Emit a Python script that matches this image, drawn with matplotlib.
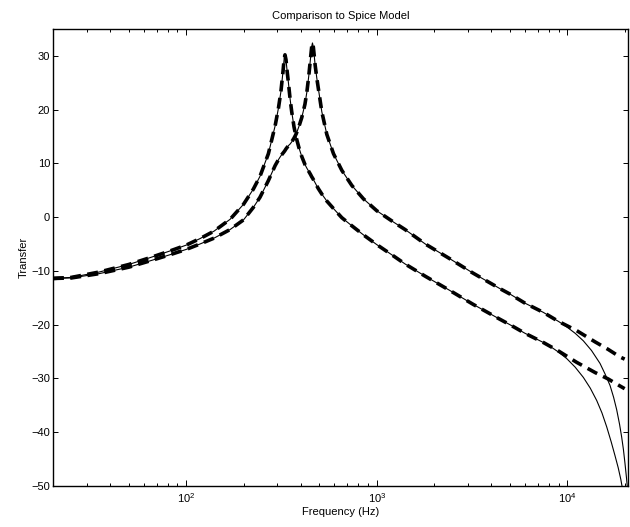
import matplotlib
matplotlib.use("Agg")
import matplotlib.pyplot as plt

# frequencies (Hz) shared by both Spice curves
freq = [20, 25, 35, 50, 65, 82, 100, 118, 140, 170, 200, 225, 244, 270, 293,
        305, 314, 322, 327, 330, 334, 339, 344, 351, 358, 368, 378, 390, 404,
        420, 430, 440, 450, 456, 460, 465, 470, 475, 485, 494, 515, 547, 593,
        656, 740, 852, 1000, 1223, 1408, 1800, 2410, 3200, 4436, 5000, 6000,
        7480, 9000, 11200, 14000, 16400, 18900, 20000]

# Spice model, lower resonance (dB)
spice_a = [-11.4, -11.2, -10.2, -8.8, -7.5, -6.3, -5.2, -4.0, -2.6, -0.4, 2.4,
           5.2, 7.6, 11.8, 17.0, 20.3, 23.3, 27.0, 29.6, 30.2, 29.3, 27.0, 25.0,
           22.0, 19.6, 16.8, 14.8, 13.0, 11.3, 9.8, 9.1, 8.5, 7.9, 7.5, 7.3,
           7.0, 6.7, 6.4, 5.8, 5.3, 4.3, 3.0, 1.6, -0.1, -1.6, -3.3, -5.1,
           -7.2, -8.7, -11.0, -13.6, -16.2, -19.0, -20.0, -21.6, -23.3, -24.9,
           -27.0, -28.9, -30.1, -31.4, -31.9]

# Spice model, upper resonance (dB)
spice_b = [-11.4, -11.3, -10.5, -9.3, -8.1, -7.0, -6.0, -5.0, -3.9, -2.3, -0.5,
           1.8, 3.7, 6.8, 9.6, 10.7, 11.4, 11.9, 12.2, 12.4, 12.7, 13.0, 13.3,
           13.6, 14.0, 14.7, 15.5, 16.8, 18.5, 21.0, 23.3, 26.3, 29.8, 31.8,
           32.4, 31.6, 30.0, 28.3, 25.8, 23.9, 19.6, 15.4, 11.8, 8.7, 5.9, 3.4,
           1.2, -0.9, -2.3, -5.0, -7.7, -10.4, -13.3, -14.3, -16.0, -17.7,
           -19.4, -21.1, -23.2, -24.6, -26.0, -26.4]

# where the digital model leaves the Spice curve
split_a = 7480
split_b = 9000
tail_freq_a = [8110, 9000, 9930, 11000, 12140, 13200, 14270, 15200, 16100,
               17000, 17780, 18500, 19100, 19700, 20200, 20700]
tail_a = [-24.0, -25.1, -26.3, -27.9, -29.8, -31.8, -34.1, -36.4, -39.0,
          -41.8, -44.3, -46.6, -48.8, -51.5, -54.5, -59.0]
tail_freq_b = [9930, 11000, 12140, 13400, 14850, 15800, 16760, 17500, 18160,
               18800, 19290, 19700, 20080, 20450, 20750, 21000]
tail_b = [-20.4, -21.6, -23.0, -24.8, -27.2, -29.2, -31.3, -33.5, -35.8,
          -38.5, -40.9, -43.2, -45.8, -48.5, -51.0, -54.0]


def model_curve(spice, split, tail_f, tail_v):
    f = [x for x in freq if x <= split] + tail_f
    v = [s for x, s in zip(freq, spice) if x <= split] + tail_v
    return f, v


model_a = model_curve(spice_a, split_a, tail_freq_a, tail_a)
model_b = model_curve(spice_b, split_b, tail_freq_b, tail_b)

plt.rcParams['font.family'] = ['Liberation Sans', 'DejaVu Sans']
plt.rcParams['font.size'] = 8

fig = plt.figure(figsize=(6.3, 5.27), dpi=100)
ax = fig.add_axes([0.0841, 0.0778, 0.9132, 0.8672])

for f, v in (model_a, model_b):
    ax.plot(f, v, color='black', lw=0.8)
for s in (spice_a, spice_b):
    ax.plot(freq, s, color='black', lw=2.6, dashes=(3, 1.8))

ax.set_xscale('log')
ax.set_xlim(20, 20900)
ax.set_ylim(-50, 35)
ax.set_yticks(range(-50, 31, 10))

ax.tick_params(which='both', direction='in', top=True, right=True,
               labelsize=8, width=0.7)
ax.tick_params(axis='x', which='major', length=4.5, pad=4)
ax.tick_params(axis='x', which='minor', length=2.2)
ax.tick_params(axis='y', which='major', length=3.5, pad=2)
for sp in ax.spines.values():
    sp.set_linewidth(1.0)

ax.set_title('Comparison to Spice Model', fontsize=8, pad=7)
ax.set_xlabel('Frequency (Hz)', fontsize=8, labelpad=1)
ax.set_ylabel('Transfer', fontsize=8, labelpad=2)

fig.savefig('out.png', dpi=100)
